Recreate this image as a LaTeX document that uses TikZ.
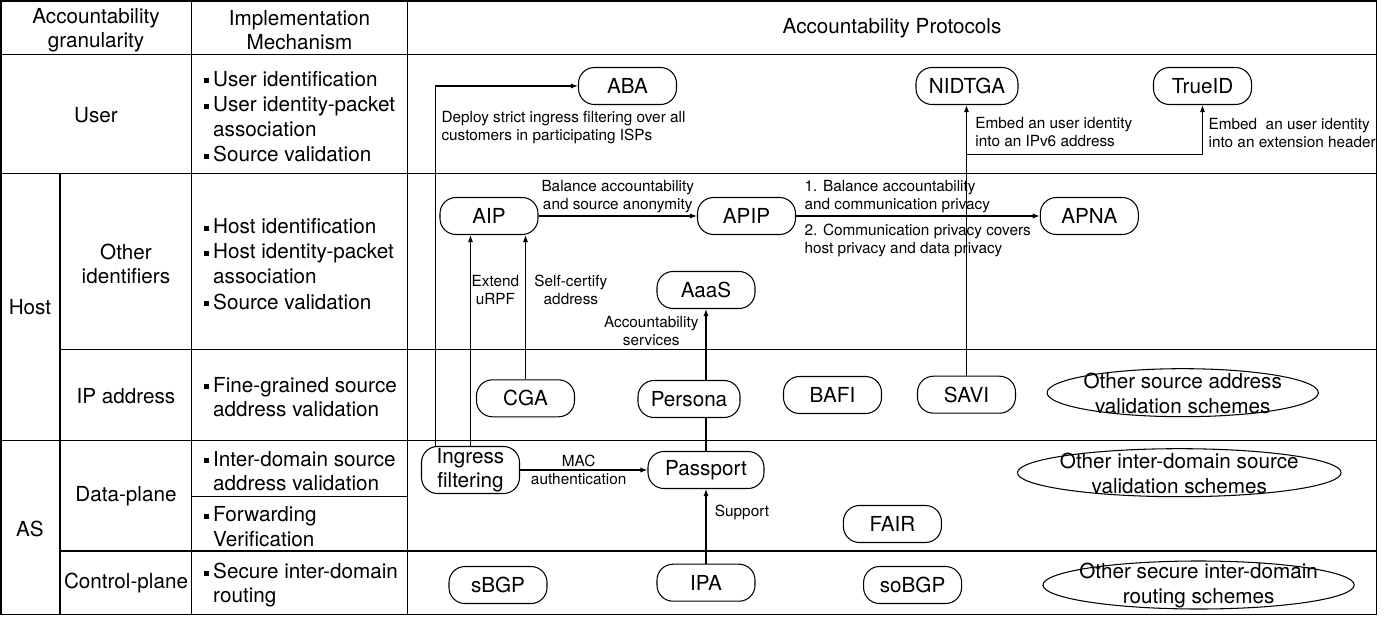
\documentclass[tikz,border=0pt]{standalone}
\usepackage{fontspec}
\setmainfont{TeX Gyre Heros}
\usetikzlibrary{arrows.meta,shapes.geometric}
\newcommand{\bigf}{\fontsize{14.7pt}{17.4pt}\selectfont}
\newcommand{\smallf}{\fontsize{10.9pt}{12.9pt}\selectfont}
\newcommand{\blt}{\makebox[6.9pt][l]{\rule[2pt]{3.6pt}{3.6pt}}}
\newcommand{\ind}{\hspace*{6.9pt}}

\begin{document}
\begin{tikzpicture}[x=0.025cm,y=-0.025cm,line width=0.75pt,
  every node/.append style={inner sep=0pt,font=\bigf},
  proto/.style={draw,fill=white,rounded corners=0.4cm,minimum width=2.45cm,minimum height=0.925cm},
  oval/.style={draw,ellipse,minimum height=1.2cm},
  mech/.style={anchor=west,align=left},
  cell/.style={align=center},
  lbl/.style={font=\smallf,align=left},
  arr/.style={-{Latex[length=5pt,width=3.6pt]}}]
\useasboundingbox (0,0) rectangle (1400,617);
\draw (1,1) rectangle (1376.5,614.5);
\draw (1,54.5) -- (1376.5,54.5);
\draw (1,173.5) -- (1376.5,173.5);
\draw (60,349.3) -- (1376.5,349.3);
\draw (1,440.5) -- (1376.5,440.5);
\draw (191.5,496.7) -- (407.5,496.7);
\draw (60,551) -- (1376.5,551);
\draw (60,173.5) -- (60,614.5);
\draw (191.5,1) -- (191.5,614.5);
\draw (407.5,1) -- (407.5,614.5);
\node[cell] (hgran) at (96,30) {Accountability\\granularity};
\node[cell] (hmech) at (299.5,30) {Implementation\\Mechanism};
\node (hprot) at (892,28) {Accountability Protocols};
\node (user) at (96,115) {User};
\node (host) at (30,307.3) {Host};
\node (as) at (30,529.3) {AS};
\node[cell] (othid) at (126,264) {Other\\identifiers};
\node (ipaddr) at (126,395.7) {IP address};
\node (dplane) at (126,496.7) {Data-plane};
\node (cplane) at (126,583.3) {Control-plane};
\node[mech] (muser) at (203,116.7) {\blt User identification\\[0.7pt]\blt User identity-packet\\\ind association\\[1pt]\blt Source validation};
\node[mech] (mhost) at (203,264) {\blt Host identification\\[0.7pt]\blt Host identity-packet\\\ind association\\[1pt]\blt Source validation};
\node[mech] (mip) at (203,397) {\blt Fine-grained source\\\ind address validation};
\node[mech] (minter) at (203,471) {\blt Inter-domain source\\\ind address validation};
\node[mech] (mfwd) at (203,526.5) {\blt Forwarding\\\ind Verification};
\node[mech] (mroute) at (203,585.2) {\blt Secure inter-domain\\\ind routing};
\node[proto] (aba) at (627.5,86) {ABA};
\node[proto,minimum width=2.55cm] (nidtga) at (967,86) {NIDTGA};
\node[proto] (trueid) at (1202.5,86) {TrueID};
\node[proto] (aip) at (489,216) {AIP};
\node[proto] (apip) at (746.5,216) {APIP};
\node[proto] (apna) at (1089.3,216) {APNA};
\node[proto] (aaas) at (706,290) {AaaS};
\node[proto] (cga) at (525.5,398.3) {CGA};
\node[proto,minimum width=2.55cm] (persona) at (689,399) {Persona};
\node[proto] (bafi) at (832.5,395) {BAFI};
\node[proto] (savi) at (966.5,394.7) {SAVI};
\node[oval,minimum width=6.78cm,label={[align=center,yshift=-0.5pt]center:Other source address\\validation schemes}] (othsav) at (1182.7,392.7) {};
\node[proto,minimum height=1.175cm,align=center] (ingress) at (470.5,470) {Ingress\\filtering};
\node[proto,minimum width=2.9cm] (passport) at (706,470) {Passport};
\node[oval,minimum width=8.09cm,label={[align=center,yshift=-0.5pt]center:Other inter-domain source\\validation schemes}] (othidv) at (1179.3,472.7) {};
\node[proto] (fair) at (892.4,524) {FAIR};
\node[proto] (sbgp) at (498,585) {sBGP};
\node[proto] (ipa) at (706,582.7) {IPA};
\node[proto] (sobgp) at (912.6,585) {soBGP};
\node[oval,minimum width=7.78cm,label={[align=center,yshift=-0.5pt]center:Other secure inter-domain\\routing schemes}] (othsir) at (1198.6,585) {};
\draw[arr] ([xshift=0.36cm]ingress.north west) |- (aba.west) node[lbl,pos=0.442,right=4pt] {Deploy strict ingress filtering over all\\customers in participating ISPs};
\draw[arr] (ingress.north) -- (ingress.north |- aip.south) node[lbl,align=center,pos=0.74,right=0.5pt] {Extend\\uRPF};
\draw[arr] (cga.north) -- (cga.north |- aip.south) node[lbl,align=center,pos=0.62,right=6pt] {Self-certify\\address};
\draw[arr] (aip) -- (apip) node[lbl,align=center,midway,above=2pt] {Balance accountability\\and source anonymity};
\draw[arr] (apip) -- (apna) node[lbl,pos=0,anchor=south west,xshift=0.2cm,yshift=2pt] {1. Balance accountability\\and communication privacy} node[lbl,pos=0,anchor=north west,xshift=0.2cm,yshift=-5pt] {2. Communication privacy covers\\host privacy and data privacy};
\draw (passport.north) -- (passport.north |- persona.south);
\draw[arr] (passport.north |- persona.north) -- (aaas.south) node[lbl,align=center,pos=0.69,left=5pt] {Accountability\\services};
\draw[arr] (ingress) -- (passport) node[lbl,align=center,pos=0.46] {MAC\\authentication};
\draw[arr] (ipa) -- (passport) node[lbl,pos=0.68,right=6pt] {Support};
\draw[arr] (savi.north) -- (savi.north |- nidtga.south) node[lbl,pos=0.9,right=6pt] {Embed an user identity\\into an IPv6 address};
\coordinate (tap) at (966.5,154.3);
\draw[arr] (tap) -| (trueid.south) node[lbl,pos=0.72,right=4pt] {Embed~ an user identity\\into an extension header};
\end{tikzpicture}
\end{document}
